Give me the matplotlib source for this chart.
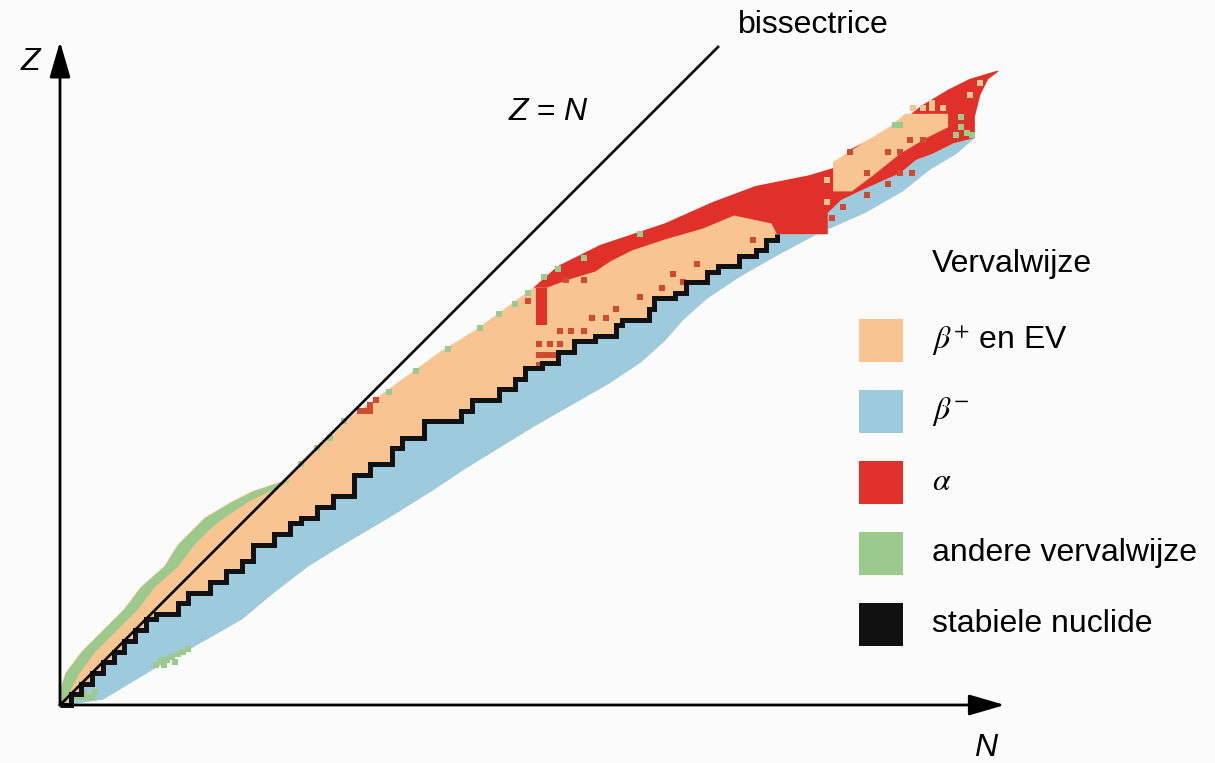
import numpy as np
import matplotlib.pyplot as plt
from matplotlib.patches import Rectangle, ArrowStyle

plt.rcParams['font.family'] = ['Liberation Sans', 'DejaVu Sans']
plt.rcParams['mathtext.fontset'] = 'stix'

# Outer edges of the band of known nuclides (N as function of Z)
left_z = np.array([0, 3, 6, 10, 14, 18, 22, 26, 30, 33, 35, 38, 40, 42, 46, 50, 54, 58, 62, 66, 70, 74,
                   78, 82, 86, 90, 94, 97, 99, 100.5, 104, 108, 112, 115, 117, 118.5])
left_n = np.array([0, 0, 1, 4, 8, 12, 15, 19.5, 22, 25, 27, 32, 36, 42, 46, 50.5, 54.5, 60, 65.5, 71, 77.5, 83,
                   88.5, 93, 101, 113, 122, 130, 140, 145, 148, 156, 161, 166, 170, 175])
right_z = np.array([0, 1, 7, 12, 16, 21, 26, 30, 35, 40, 44, 48, 52, 56, 60, 64, 68, 72, 76, 80, 84, 88,
                    92, 96, 100, 103, 106, 110, 114, 117, 118.5])
right_n = np.array([1, 8, 18, 27, 34, 40, 46.5, 53, 61.5, 69.5, 75.5, 82, 88.5, 95.5, 102.5, 108.5, 113, 116.5,
                    121, 127, 134, 141.5, 150.5, 157.5, 162.5, 167.5, 171, 171, 172, 173.5, 175.5])

# Inner edge of the green strip on the proton-rich side (Z <= 42)
green_strip_n = np.array([1, 2, 3.5, 6.5, 10.5, 14.5, 17.5, 22, 25, 28, 30.5, 35, 39, 43])

# Stable nuclides: staircase corners (start of each horizontal run)
stable_n = np.array([0, 2, 4, 6, 8, 10, 12, 14, 16, 18, 22, 24, 28, 31, 34, 36, 40, 43, 45, 48, 51, 55, 58,
                     62, 64, 68, 75, 77, 82, 85, 87, 90, 93, 96, 100, 104, 105, 110, 111, 115, 117, 121, 123,
                     127, 130, 132, 134])
stable_z = np.array([0, 2, 4, 6, 8, 10, 12, 14, 16, 17, 19, 21, 23, 25, 27, 30, 32, 34, 35, 37, 39, 43, 45,
                     48, 50, 53, 55, 57, 59, 61, 63, 64, 66, 68, 69, 71, 72, 74, 76, 77, 79, 81, 82,
                     84, 85, 87, 88])

# Upper limit of beta-minus region above the last stable nuclide
blue_top_n = np.array([134, 143.5, 143.5, 146, 150, 154, 157, 160, 163, 167, 171])
blue_top_z = np.array([88, 88, 92, 94.4, 96.3, 98.1, 99.4, 101.9, 103, 105, 106])

# Lower limit of the alpha band (heavy, proton-rich side)
alpha_low_n = np.array([88.5, 91, 95, 100, 103, 107, 113, 120, 126, 133, 134])
alpha_low_z = np.array([78, 78, 79.5, 81, 83, 85, 87, 89, 91.5, 90, 88])
alpha_strip_n = [89, 91]
alpha_strip_z = [71, 78]

# Beta-plus island inside the alpha region (top right)
bp_island_n = [144.5, 144.5, 150, 155, 158, 166, 166, 162, 157, 152, 148]
bp_island_z = [96, 101.5, 105, 108, 110.5, 110.5, 108, 106, 103, 99, 96]

# Single cells
alpha_dots_n = [56, 57, 58, 58, 59, 87.5, 89.5, 91.5, 93.5, 89.5, 90.5, 91.5, 92.5, 93.5, 95.5, 98, 99.5, 102,
                104, 108.5, 112.5, 114.5, 116.5, 119, 129.5, 94.5, 98, 89.5,
                144.3, 146.4, 150.8, 154.7, 157, 159.3,
                150.8, 147.7, 154.8, 157, 158.9, 161.3]
alpha_dots_z = [55, 55, 55, 56, 57, 75.5, 67.5, 67.5, 67.5, 65.5, 65.5, 65.5, 65.5, 70, 70, 70, 72.3, 72.3,
                74, 76.3, 78, 80.5, 79, 82.5, 86.9, 79.4, 79.4, 63.5,
                91, 93, 95.3, 97.4, 99.4, 99.4,
                99.4, 103.4, 103.4, 103.4, 105.6, 105.6]
bp_dots_n = [143.4, 143.4, 172, 163, 159.5, 161.3, 163, 165, 170]
bp_dots_z = [98.1, 94, 116.3, 112.5, 111.5, 111.5, 111.5, 111.5, 114]
other_dots_n = [45, 48, 50.5, 53, 61.5, 66.5, 72.5, 78.5, 82, 85, 87.5, 90.5, 93, 98, 108.5,
                3, 4, 5, 6, 4.5, 6.5, 18, 19, 20, 21, 22, 23, 24, 19.5, 21.5,
                167.5, 168.5, 169.5, 170.5, 168.5, 156, 157]
other_dots_z = [45, 48, 50, 53, 58.5, 62.5, 66.5, 70.5, 73, 75, 77, 80, 81.5, 83.5, 88,
                1.5, 1.5, 1.5, 1.5, 2.5, 2.5, 7.5, 8.5, 8.5, 9, 9.5, 10, 10.5, 7.5, 8,
                106.5, 108, 107, 106.5, 110, 108.5, 108.5]

legend_labels = [r'$\beta^{+}$ en EV', r'$\beta^{-}$', r'$\alpha$', 'andere vervalwijze', 'stabiele nuclide']

c_bplus = '#f8c491'
c_bmin = '#9dcadd'
c_alpha = '#e0302a'
c_other = '#9cc98c'
c_dot = '#cf4a2e'
c_stable = '#111111'
legend_colors = [c_bplus, c_bmin, c_alpha, c_other, c_stable]

W, H = 1215, 763
fig = plt.figure(figsize=(W / 100, H / 100), dpi=100, facecolor='#fbfbfb')
ax = fig.add_axes([0, 0, 1, 1])
ax.set_facecolor('#fbfbfb')
s = 5.35
ax.set_xlim(-60 / s, (W - 60) / s)
ax.set_ylim(-(H - 705) / s, 705 / s)
ax.axis('off')

# whole band in beta-plus colour
ax.fill(np.concatenate([left_n, right_n[::-1]]), np.concatenate([left_z, right_z[::-1]]),
        color=c_bplus, lw=0, zorder=1)

# green strip at proton-rich edge for light nuclei
k = len(green_strip_n)
ax.fill_betweenx(left_z[:k], left_n[:k], green_strip_n, color=c_other, lw=0, zorder=2)

# beta-minus region: stable staircase -> top boundary -> neutron-rich edge
sn = np.repeat(stable_n, 2)[1:]
sz = np.repeat(stable_z, 2)[:-1]
m = right_z <= 105
ax.fill(np.concatenate([sn, blue_top_n[1:], right_n[m][::-1]]),
        np.concatenate([sz, blue_top_z[1:], right_z[m][::-1]]), color=c_bmin, lw=0, zorder=2)

# alpha region
lm = left_z >= 78
rm = right_z >= 106
ax.fill(np.concatenate([left_n[lm], right_n[rm][::-1], blue_top_n[::-1], alpha_low_n[::-1]]),
        np.concatenate([left_z[lm], right_z[rm][::-1], blue_top_z[::-1], alpha_low_z[::-1]]),
        color=c_alpha, lw=0, zorder=3)
ax.fill_between(alpha_strip_n, alpha_strip_z[0], alpha_strip_z[1], color=c_alpha, lw=0, zorder=3)
ax.fill(bp_island_n, bp_island_z, color=c_bplus, lw=0, zorder=4)

# single cells
ax.scatter(alpha_dots_n, alpha_dots_z, marker='s', s=16, color=c_dot, lw=0, zorder=5)
ax.scatter(bp_dots_n, bp_dots_z, marker='s', s=16, color=c_bplus, lw=0, zorder=5)
ax.scatter(other_dots_n, other_dots_z, marker='s', s=16, color=c_other, lw=0, zorder=5)

# stable nuclides
ax.step(stable_n, stable_z, where='post', color=c_stable, lw=3.6, zorder=6,
        solid_joinstyle='miter', solid_capstyle='butt')

# bisectrice Z = N
ax.plot([0, 123], [0, 123], color='black', lw=1.9, zorder=7)

# axes with arrows
arrow = ArrowStyle('-|>', head_length=1.1, head_width=0.32)
for tip in [(0, 124.0), (176.6, 0)]:
    ax.annotate('', xy=tip, xytext=(0, 0),
                arrowprops=dict(arrowstyle=arrow, mutation_scale=20, lw=2.0, color='black',
                                shrinkA=0, shrinkB=0), zorder=8)

fs = 23
def px(x, y):
    return x / W, 1 - y / H

fig.text(*px(30, 62), 'Z', fontsize=fs, style='italic', ha='center', va='center')
fig.text(*px(986, 748), 'N', fontsize=fs, style='italic', ha='center', va='center')
fig.text(*px(548, 112), 'Z = N', fontsize=fs, style='italic', ha='center', va='center')
fig.text(*px(738, 25), 'bissectrice', fontsize=fs, ha='left', va='center')

# legend
fig.text(*px(932, 264), 'Vervalwijze', fontsize=fs, ha='left', va='center')
for i, (lab, col) in enumerate(zip(legend_labels, legend_colors)):
    yc = 340.5 + i * 71
    x0, y0 = px(859, yc + 21.5)
    fig.patches.append(Rectangle((x0, y0), 44 / W, 43 / H, transform=fig.transFigure,
                                 facecolor=col, edgecolor='none'))
    fig.text(*px(932, yc), lab, fontsize=fs, ha='left', va='center')

fig.savefig('out.png', dpi=100, facecolor=fig.get_facecolor())
